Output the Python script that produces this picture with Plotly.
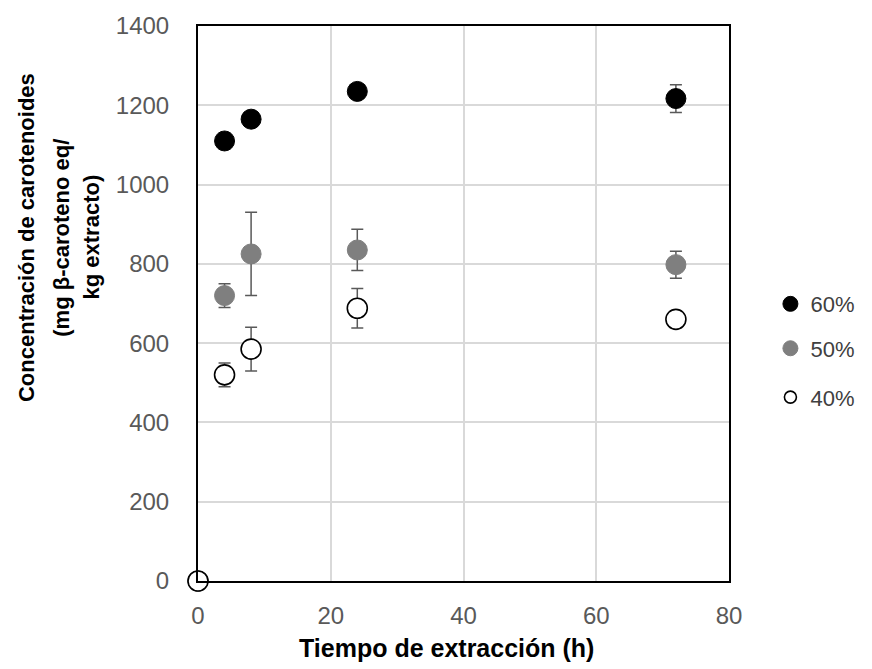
import plotly.graph_objects as go

time_h = [0, 4, 8, 24, 72]
c60 = [0, 1110, 1165, 1235, 1217]
e60 = [0, 20, 10, 10, 35]
c50 = [0, 720, 825, 835, 798]
e50 = [0, 30, 105, 52, 34]
c40 = [0, 520, 585, 688, 660]
e40 = [0, 30, 55, 50, 10]
labels = ["60%", "50%", "40%"]
x_ticks = [0, 20, 40, 60, 80]
y_ticks = [0, 200, 400, 600, 800, 1000, 1200, 1400]

FONT = "Liberation Sans, Arial, sans-serif"
ERR_COL = "#595959"

series = [
    (labels[0], c60, e60, dict(color="black", line=dict(color="black", width=1)), "legend", 15),
    (labels[1], c50, e50, dict(color="#7f7f7f", line=dict(color="#7f7f7f", width=1)), "legend2", 15),
    (labels[2], c40, e40, dict(color="white", line=dict(color="black", width=1.6)), "legend3", 12),
]

fig = go.Figure()
for name, vals, errs, mk, lg, lsize in series:
    fig.add_trace(go.Scatter(
        x=time_h, y=vals, mode="markers", name=name, showlegend=False,
        cliponaxis=False,
        marker=dict(size=20, symbol="circle", **mk),
        error_y=dict(type="data", array=errs, visible=True, color=ERR_COL,
                     thickness=1.5, width=6),
    ))
    fig.add_trace(go.Scatter(
        x=[None], y=[None], mode="markers", name=name, legend=lg,
        marker=dict(size=lsize, symbol="circle", **mk),
    ))

leg_common = dict(font=dict(family=FONT, size=22, color="#404040"),
                  bgcolor="rgba(0,0,0,0)", itemwidth=30, xanchor="left",
                  yanchor="middle", x=1.078)
fig.update_layout(
    width=872, height=669,
    margin=dict(l=198, r=138, t=22, b=88),
    paper_bgcolor="white", plot_bgcolor="white",
    font=dict(family=FONT),
    legend=dict(y=0.499, **leg_common),
    legend2=dict(y=0.419, **leg_common),
    legend3=dict(y=0.331, **leg_common),
)
fig.update_xaxes(
    range=[0, 80], tickvals=x_ticks, showgrid=True, gridcolor="#d9d9d9", gridwidth=1.5,
    showline=True, linecolor="black", linewidth=2, mirror=True, zeroline=False,
    ticks="", ticklabelstandoff=12,
    tickfont=dict(family=FONT, size=24, color="#595959"),
)
fig.update_yaxes(
    range=[0, 1400], tickvals=y_ticks, showgrid=True, gridcolor="#d9d9d9", gridwidth=1.5,
    showline=True, linecolor="black", linewidth=2, mirror=True, zeroline=False,
    ticks="", ticklabelstandoff=22,
    tickfont=dict(family=FONT, size=24, color="#595959"),
)

fig.add_annotation(text="<b>Tiempo de extracción (h)</b>", xref="paper", yref="paper",
                   x=0.468, y=-0.12, xanchor="center", yanchor="middle", showarrow=False,
                   font=dict(family=FONT, size=25, color="black"))
ylines = [("Concentración de carotenoides", -0.3228),
          ("(mg β-caroteno eq/", -0.2575),
          ("kg extracto)", -0.2015)]
for txt, xp in ylines:
    fig.add_annotation(text=f"<b>{txt}</b>", xref="paper", yref="paper",
                       x=xp, y=0.619, xanchor="center", yanchor="middle", textangle=-90,
                       showarrow=False, font=dict(family=FONT, size=22, color="black"))

fig.write_html("out.html")
